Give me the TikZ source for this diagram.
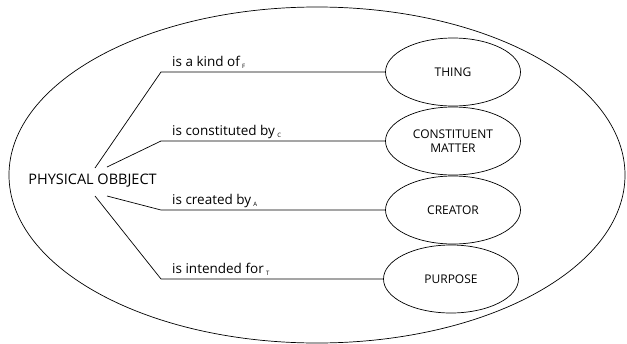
\documentclass[tikz,border=0pt]{standalone}
\usepackage{fontspec}
\setmainfont{Open Sans}
\usetikzlibrary{shapes.geometric}
\newcommand{\sbx}[1]{\,\raisebox{-2.5pt}{\fontsize{6}{6}\selectfont #1}}
\begin{document}
\begin{tikzpicture}[x=1pt,y=-1pt,
  conn/.style={line width=0.7pt},
  goal/.style={ellipse,draw,line width=0.7pt,minimum width=135pt,minimum height=68pt,inner sep=0pt,align=center,font=\fontsize{12}{14}\selectfont},
  rel/.style={anchor=base west,inner sep=0pt,font=\fontsize{13.5}{15}\selectfont}]
\useasboundingbox (0,0) rectangle (627,343);
\draw[line width=0.7pt] (317,175) ellipse [x radius=308pt, y radius=168pt];
\node[inner sep=0pt,font=\fontsize{14.5}{16}\selectfont] (po) at (92.5,181) {PHYSICAL OBBJECT};
\node[goal] (thing) at (453,72) {THING};
\node[goal] (const) at (453,141) {CONSTITUENT\\MATTER};
\node[goal] (creator) at (453,210) {CREATOR};
\node[goal] (purpose) at (451,279) {PURPOSE};
\coordinate (s1) at (95,168);
\coordinate (s2) at (107,167);
\coordinate (s3) at (107,196);
\coordinate (s4) at (95,196);
\coordinate (b1) at (161,72);
\coordinate (b2) at (161,141);
\coordinate (b3) at (161,210);
\coordinate (b4) at (161,279);
\draw[conn] (s1) -- (b1) -- (thing.west);
\draw[conn] (s2) -- (b2) -- (const.west);
\draw[conn] (s3) -- (b3) -- (creator.west);
\draw[conn] (s4) -- (b4) -- (purpose.west);
\node[rel] (l1) at (172,66) {is a kind of\sbx{F}};
\node[rel] (l2) at (172,135) {is constituted by\sbx{C}};
\node[rel] (l3) at (172,204) {is created by\sbx{A}};
\node[rel] (l4) at (172,273) {is intended for\sbx{T}};
\end{tikzpicture}
\end{document}
